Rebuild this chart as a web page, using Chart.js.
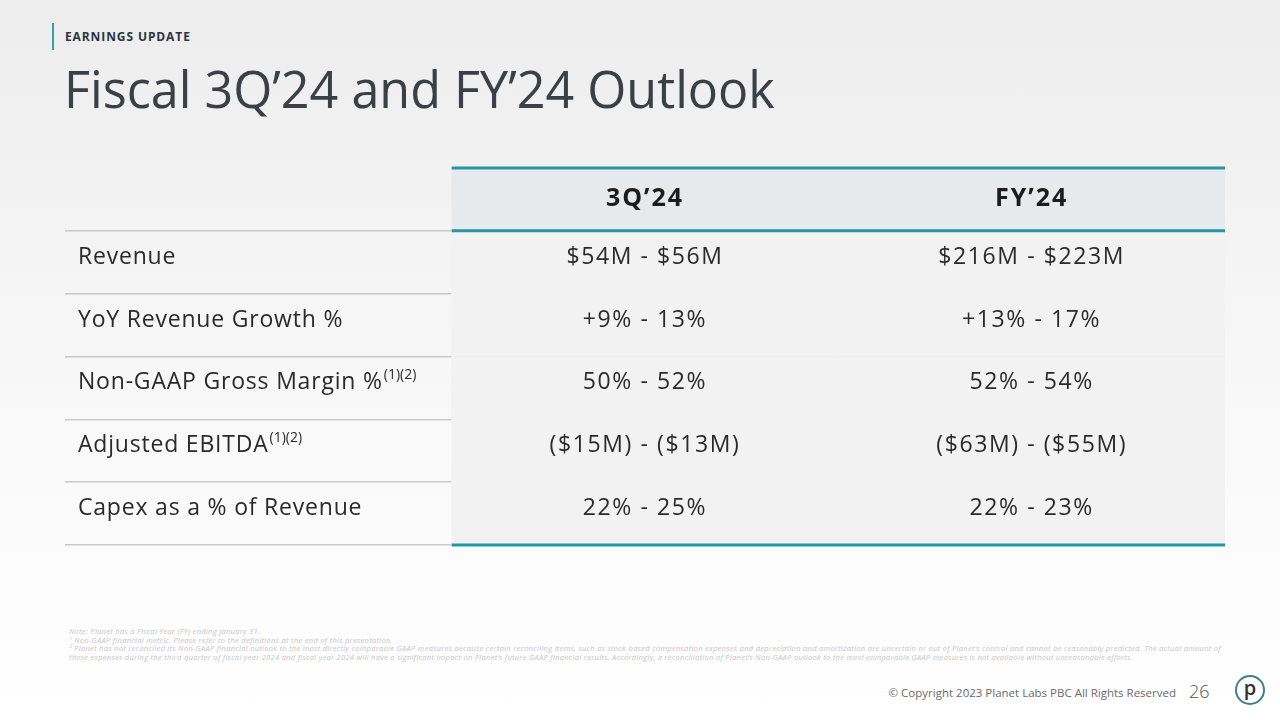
<!DOCTYPE html>
<html>
<head>
<meta charset="utf-8">
<script src="https://cdn.jsdelivr.net/npm/chart.js@4.4.0/dist/chart.umd.min.js"></script>
<style>
body {
    margin: 0;
    width: 1280px;
    height: 720px;
    overflow: hidden;
    position: relative;
    background: linear-gradient(#ededed 0%, #f8f8f8 55%, #ffffff 100%);
    font-family: 'Open Sans', sans-serif;
}
.kicker {
    position: absolute; left: 52px; top: 23px; height: 27px;
    border-left: 2px solid #3a9fb0; padding-left: 11px;
    font: 700 12px/27px 'Open Sans', sans-serif; color: #2b3640; letter-spacing: 0.9px;
}
h1 {
    position: absolute; left: 64px; top: 64px; margin: 0;
    font: 400 50.3px/50px 'Open Sans', sans-serif; color: #3a4046; letter-spacing: 0px;
}
#wrap { position: absolute; left: 65px; top: 160px; width: 1160px; height: 395px; }
.notes {
    position: absolute; left: 69px; top: 627px; width: 1170px;
    font: italic 7.5px/8.6px 'Open Sans', sans-serif; letter-spacing: 0.3px;
    color: #c6c6c6; white-space: nowrap;
}
.footer {
    position: absolute; right: 104px; top: 686px;
    font: 400 11.5px/14px 'Open Sans', sans-serif; color: #6a6a6a;
}
.page {
    position: absolute; left: 1189px; top: 680px;
    font: 300 18px/22px 'Open Sans', sans-serif; color: #555;
}
.logo {
    position: absolute; left: 1235px; top: 675px; width: 26px; height: 26px;
    border: 2px solid #3e8084; border-radius: 50%;
    font: 600 20px/22px 'Open Sans', sans-serif; color: #333; text-align: center;
}
</style>
</head>
<body>
<div class="kicker">EARNINGS UPDATE</div>
<h1>Fiscal 3Q’24 and FY’24 Outlook</h1>
<div id="wrap"><canvas id="tabela"></canvas></div>
<div class="notes">
Note: Planet has a Fiscal Year (FY) ending January 31.<br>
¹ Non-GAAP financial metric. Please refer to the definitions at the end of this presentation.<br>
² Planet has not reconciled its Non-GAAP financial outlook to the most directly comparable GAAP measures because certain reconciling items, such as stock-based compensation expenses and depreciation and amortization are uncertain or out of Planet’s control and cannot be reasonably predicted. The actual amount of<br>
these expenses during the third quarter of fiscal year 2024 and fiscal year 2024 will have a significant impact on Planet’s future GAAP financial results. Accordingly, a reconciliation of Planet’s Non-GAAP outlook to the most comparable GAAP measures is not available without unreasonable efforts.
</div>
<div class="footer">© Copyright 2023 Planet Labs PBC All Rights Reserved</div>
<div class="page">26</div>
<div class="logo">p</div>

<script>
// Colunas e linhas da tabela
const columns = ['3Q’24', 'FY’24'];
const rowLabels = ['Revenue', 'YoY Revenue Growth %', 'Non-GAAP Gross Margin %', 'Adjusted EBITDA', 'Capex as a % of Revenue'];
const rowNotes = ['', '', '(1)(2)', '(1)(2)', ''];
const q3Values = ['$54M - $56M', '+9% - 13%', '50% - 52%', '($15M) - ($13M)', '22% - 25%'];
const fyValues = ['$216M - $223M', '+13% - 17%', '52% - 54%', '($63M) - ($55M)', '22% - 23%'];

const teal = '#2497a7';
const rowKeys = ['header', ...rowLabels];
const columnValues = [q3Values, fyValues];

// cada coluna de valores é um conjunto de barras flutuantes (índice da coluna no eixo x)
const datasets = columns.map((name, j) => ({
    label: name,
    data: rowKeys.map(() => [j + 1, j + 2]),
    backgroundColor: rowKeys.map((k, i) => i === 0 ? '#e7eaec' : '#f2f2f2'),
    borderWidth: 0,
    barPercentage: 1,
    categoryPercentage: 1,
    grouped: false
}));

// Plugin que escreve os textos e as linhas azuis
const tablePlugin = {
    id: 'tableText',
    afterDraw(chart) {
        const { ctx, scales: { x, y } } = chart;
        const half = (y.getPixelForValue(1) - y.getPixelForValue(0)) / 2;
        const top = y.getPixelForValue(0) - half;
        const headBottom = y.getPixelForValue(0) + half;
        const bottom = y.getPixelForValue(rowKeys.length - 1) + half;
        const xa = x.getPixelForValue(1), xb = x.getPixelForValue(columns.length + 1);

        ctx.save();
        ctx.strokeStyle = teal;
        ctx.lineWidth = 3;
        [top, headBottom, bottom].forEach(py => {
            ctx.beginPath();
            ctx.moveTo(xa, py);
            ctx.lineTo(xb, py);
            ctx.stroke();
        });

        ctx.textBaseline = 'middle';
        ctx.textAlign = 'center';
        ctx.fillStyle = '#1c1c1c';
        ctx.font = '700 25px "Open Sans"';
        ctx.letterSpacing = '2px';
        columns.forEach((c, j) => ctx.fillText(c, x.getPixelForValue(j + 1.5), y.getPixelForValue(0) - 1));

        ctx.fillStyle = '#2a2a2a';
        ctx.font = '400 23px "Open Sans"';
        ctx.letterSpacing = '1.6px';
        columnValues.forEach((vals, j) => {
            vals.forEach((v, i) => ctx.fillText(v, x.getPixelForValue(j + 1.5), y.getPixelForValue(i + 1) - 5));
        });

        ctx.textAlign = 'left';
        const lx = x.getPixelForValue(0) + 13;
        rowLabels.forEach((lab, i) => {
            const py = y.getPixelForValue(i + 1) - 5;
            ctx.font = '400 23px "Open Sans"';
            ctx.letterSpacing = '0.8px';
            ctx.fillText(lab, lx, py);
            if (rowNotes[i]) {
                const w = ctx.measureText(lab).width;
                ctx.font = '400 14px "Open Sans"';
                ctx.letterSpacing = '0px';
                ctx.fillText(rowNotes[i], lx + w + 1, py - 8);
            }
        });
        ctx.restore();
    }
};

const config = {
    type: 'bar',
    data: { labels: rowKeys, datasets: datasets },
    options: {
        indexAxis: 'y',
        responsive: true,
        maintainAspectRatio: false,
        animation: false,
        layout: { padding: { top: 8, bottom: 10, left: 0, right: 0 } },
        plugins: { legend: { display: false }, tooltip: { enabled: false } },
        scales: {
            x: {
                type: 'linear',
                min: 0,
                max: columns.length + 1,
                z: 1,
                ticks: { display: false, stepSize: 1 },
                border: { display: false },
                grid: {
                    drawTicks: false,
                    lineWidth: 2,
                    color: c => (c.tick && c.tick.value === 2) ? '#ffffff' : 'rgba(0,0,0,0)'
                }
            },
            y: {
                type: 'category',
                offset: true,
                ticks: { display: false },
                border: { display: false },
                grid: {
                    offset: true,
                    drawTicks: false,
                    lineWidth: 1.5,
                    color: c => c.index === 0 ? 'rgba(0,0,0,0)' : '#c9c9c9'
                }
            }
        }
    },
    plugins: [tablePlugin]
};

const ctx = document.getElementById('tabela').getContext('2d');
const grafico = new Chart(ctx, config);
</script>
</body>
</html>
